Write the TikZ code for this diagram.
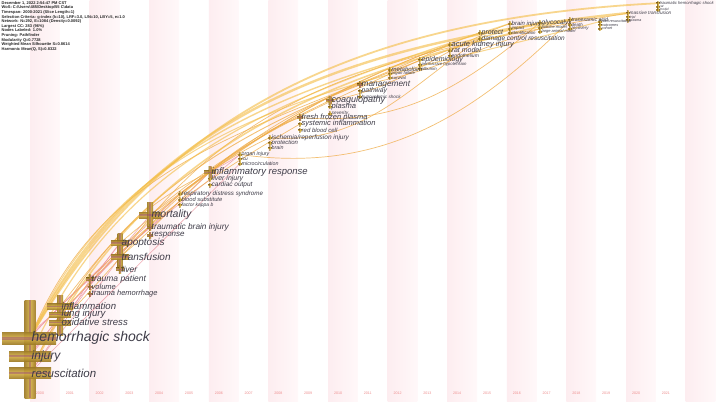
\documentclass[tikz,border=0pt]{standalone}
\usepackage{fontspec}
\setmainfont{Liberation Sans}
\definecolor{stripec}{RGB}{253,237,240}
\definecolor{stripel}{RGB}{255,248,249}
\definecolor{labelc}{RGB}{62,60,72}
\definecolor{goldd}{RGB}{160,125,40}
\definecolor{goldl}{RGB}{214,178,70}
\definecolor{midc}{RGB}{150,70,120}
\definecolor{pinkE}{RGB}{238,150,160}
\definecolor{oranE}{RGB}{240,172,70}
\definecolor{yelE}{RGB}{244,190,72}
\definecolor{yearc}{RGB}{238,140,140}
\newcommand\kwx[5]{%
  \shade[hbar] ({#1-(#3)/2},{#2-(#5)/2}) rectangle ({#1+(#3)/2},{#2+(#5)/2});
  \shade[vbar] ({#1-(#5)/2},{#2-(#4)/2}) rectangle ({#1+(#5)/2},{#2+(#4)/2});
  \fill[core] ({#1-(#3)/2},{#2-(#5)/8}) rectangle ({#1+(#3)/2},{#2+(#5)/8});
  \fill[core] ({#1-(#5)/8},{#2-(#4)/2}) rectangle ({#1+(#5)/8},{#2+(#4)/2});}
\newcommand\kwl[3]{\node[kw,font=\fontsize{#2}{#2}\selectfont\itshape] (#1-l) at (#1) {#3};}
\begin{document}
\begin{tikzpicture}[x=1pt,y=-1pt,
  kw/.style={anchor=west,inner sep=0pt,xshift=1.5pt,text=labelc},
  hbar/.style={top color=goldd,bottom color=goldd,middle color=goldl,opacity=0.92},
  vbar/.style={left color=goldd,right color=goldd,middle color=goldl,opacity=0.92},
  core/.style={fill=midc,opacity=0.45},
  ep/.style={draw=pinkE,line width=0.6pt,opacity=0.8},
  eo/.style={draw=oranE,line width=0.7pt,opacity=0.75},
  ey/.style={draw=yelE,opacity=0.62},
  yr/.style={font=\fontsize{3.6}{3.6}\selectfont,text=yearc,inner sep=0pt},
  hdr/.style={anchor=north west,inner sep=0pt,align=left,font=\fontsize{4}{4.65}\selectfont\bfseries,text=black!85}]
\useasboundingbox (0,0) rectangle (719,401);
\fill[white] (0,0) rectangle (719,401);
% stripes
\foreach \k in {0,...,11}
  \shade[left color=stripec,right color=stripel] ({30+59.6*\k},0) rectangle ({59.8+59.6*\k},401);
% node centres
\coordinate (hs) at (30,338); \coordinate (inj) at (30,356); \coordinate (res) at (30,373);
\coordinate (infl) at (60,306.5); \coordinate (lung) at (60,314.5); \coordinate (ox) at (60,322.5);
\coordinate (tp) at (90,279); \coordinate (vol) at (90,287); \coordinate (th) at (90,294);
\coordinate (apo) at (120,243); \coordinate (trans) at (120,257); \coordinate (liver) at (120,269);
\coordinate (mort) at (150,215); \coordinate (tbi) at (150,227); \coordinate (resp) at (150,235);
\coordinate (ards) at (180,193.5); \coordinate (bs) at (180,199.5); \coordinate (fkb) at (180,205);
\coordinate (ir) at (210,172); \coordinate (li) at (210,179); \coordinate (co) at (210,185);
\coordinate (oi) at (240,154.5); \coordinate (icu) at (240,159); \coordinate (mc) at (240,163.5);
\coordinate (irj) at (270,137.5); \coordinate (prot) at (270,143); \coordinate (brain) at (270,148);
\coordinate (ffp) at (300,117.5); \coordinate (si) at (300,124); \coordinate (rbc) at (300,130);
\coordinate (coag) at (330,100.5); \coordinate (plasma) at (330,107); \coordinate (sev) at (330,113.5);
\coordinate (mgmt) at (360,85); \coordinate (path) at (360,91.2); \coordinate (hyp) at (360,97);
\coordinate (metab) at (390,69.5); \coordinate (of) at (390,73.8); \coordinate (surv) at (390,77.6);
\coordinate (epi) at (420,60); \coordinate (ph) at (420,64.8); \coordinate (alb) at (420,68.8);
\coordinate (aki) at (450,44.5); \coordinate (rat) at (450,50.5); \coordinate (endo) at (450,56);
\coordinate (protect) at (480,32.5); \coordinate (dcr) at (480,38.5);
\coordinate (bi) at (510,23.5); \coordinate (imp) at (510,28.5); \coordinate (ident) at (510,32.5);
\coordinate (glyc) at (540,22.5); \coordinate (pm) at (540,27.5); \coordinate (lam) at (540,31.5);
\coordinate (txa) at (570,20); \coordinate (death) at (570,24.5); \coordinate (rec) at (570,28.5);
\coordinate (fr) at (600,21.5); \coordinate (outc) at (600,25); \coordinate (coh) at (600,28.6);
\coordinate (mt) at (628,13); \coordinate (trial) at (628,16.8); \coordinate (plas2) at (628,20.2);
\coordinate (ths) at (658,3.2); \coordinate (rat2) at (658,6.6); \coordinate (model2) at (658,9.6);
% connectors
\begin{scope}[line cap=round]
\draw[ep] (hs) to[out=50,in=235] (apo);
\draw[ep] (inj) to[out=50,in=230] (mort);
\draw[ep] (res) to[out=55,in=235] (trans);
\draw[ep] (res) to[out=55,in=240] (tp);
\draw[ep] (hs) to[out=60,in=230] (infl);
\draw[ep] (inj) to[out=60,in=240] (lung);
\draw[ep] (infl) to[out=45,in=225] (ards);
\draw[ep] (lung) to[out=45,in=220] (tbi);
\draw[ep] (hs) to[out=48,in=225] (ir);
\draw[ep] (ox) to[out=45,in=230] (apo);
\draw[ep] (res) to[out=45,in=225] (mc);
\draw[ep] (inj) to[out=55,in=220] (oi);
\draw[ep] (ir) to[out=30,in=215] (oi);
\draw[ep] (ards) to[out=40,in=220] (ir);
\draw[eo] (infl) to[out=52,in=205] (ir);
\draw[eo] (ox) to[out=45,in=205] (irj);
\draw[eo] (lung) to[out=48,in=210] (si);
\draw[eo] (tp) to[out=45,in=205] (coag);
\draw[eo] (trans) to[out=40,in=200] (ffp);
\draw[eo] (mort) to[out=35,in=200] (mgmt);
\draw[eo] (mort) to[out=40,in=205] (epi);
\draw[eo] (apo) to[out=40,in=200] (protect);
\draw[eo] (ir) to[out=35,in=200] (aki);
\draw[eo] (trans) to[out=55,in=190] (mt);
\draw[eo] (irj) to[out=-5,in=215] (dcr);
\draw[eo] (oi) to[out=-8,in=225] (txa);
\draw[eo] (ffp) to[out=-5,in=220] (glyc);
\draw[eo] (coag) to[out=10,in=200] (bi);
\draw[eo] (mgmt) to[out=10,in=195] (txa);
\draw[eo] (hs) to[out=68,in=205] (aki);
\draw[eo,line width=0.9pt] (res) to[out=66,in=200] (dcr);
\draw[ey,line width=2.4pt] (hs) to[out=62,in=186] (mt);
\draw[ey,line width=1.8pt] (hs) to[out=60,in=183] (ths);
\draw[ey,line width=1.6pt] (res) to[out=64,in=192] (txa);
\draw[ey,line width=1.4pt] (hs) to[out=64,in=194] (glyc);
\draw[ey,line width=1.2pt] (inj) to[out=66,in=198] (bi);
\draw[ey,line width=1.0pt] (hs) to[out=66,in=195] (fr);
\end{scope}
% crosses
\kwx{30}{349}{0}{98}{11}
\kwx{29}{338}{54}{0}{12}
\kwx{30}{356}{42}{0}{10}
\kwx{30}{373}{42}{0}{11}
\kwx{60}{315}{0}{40}{6}
\kwx{60}{306.5}{26}{0}{6}
\kwx{60}{314.5}{22}{0}{5}
\kwx{60}{322.5}{22}{0}{5}
\kwx{90}{279}{8}{9}{2.2}
\kwx{90}{287}{5}{5}{1.6}
\kwx{90}{294}{5}{5}{1.6}
\kwx{120}{250}{0}{34}{5}
\kwx{120}{243}{18}{0}{5}
\kwx{120}{257}{18}{0}{5}
\kwx{120}{269}{8}{8}{2.2}
\kwx{150}{215}{22}{26}{6}
\kwx{150}{227}{6}{6}{2}
\kwx{150}{235}{6}{6}{2}
\foreach \c in {ards,bs,fkb,li,co,oi,icu,mc,irj,prot,brain,si,rbc,plasma,sev,path,hyp,
  metab,of,surv,epi,ph,alb,aki,rat,endo,protect,dcr,bi,imp,ident,glyc,pm,lam,txa,death,rec,
  fr,outc,coh,mt,trial,plas2,ths,rat2,model2}
  {\shade[hbar] ([shift={(-2,-0.65)}]\c) rectangle ([shift={(2,0.65)}]\c);
   \shade[vbar] ([shift={(-0.65,-2)}]\c) rectangle ([shift={(0.65,2)}]\c);}
\kwx{210}{172}{12}{12}{3}
\kwx{300}{117.5}{6}{6}{2}
\kwx{330}{100.5}{8}{8}{2.6}
\kwx{360}{85}{6}{6}{2}
% labels
\kwl{hs}{14}{hemorrhagic shock}
\kwl{inj}{12}{injury}
\kwl{res}{11.5}{resuscitation}
\kwl{infl}{9.6}{inflammation}
\kwl{lung}{9.6}{lung injury}
\kwl{ox}{9.6}{oxidative stress}
\kwl{tp}{8.5}{trauma patient}
\kwl{vol}{7.5}{volume}
\kwl{th}{7.5}{trauma hemorrhage}
\kwl{apo}{10}{apoptosis}
\kwl{trans}{10}{transfusion}
\kwl{liver}{8.5}{liver}
\kwl{mort}{10.5}{mortality}
\kwl{tbi}{8.3}{traumatic brain injury}
\kwl{resp}{8}{response}
\kwl{ards}{6.2}{respiratory distress syndrome}
\kwl{bs}{5.8}{blood substitute}
\kwl{fkb}{5}{factor kappa b}
\kwl{ir}{9.5}{inflammatory response}
\kwl{li}{7}{liver injury}
\kwl{co}{6.5}{cardiac output}
\kwl{oi}{5.3}{organ injury}
\kwl{icu}{4.8}{icu}
\kwl{mc}{5.3}{microcirculation}
\kwl{irj}{6.5}{ischemia/reperfusion injury}
\kwl{prot}{6}{protection}
\kwl{brain}{5.3}{brain}
\kwl{ffp}{7.5}{fresh frozen plasma}
\kwl{si}{7.5}{systemic inflammation}
\kwl{rbc}{6}{red blood cell}
\kwl{coag}{9}{coagulopathy}
\kwl{plasma}{7.6}{plasma}
\kwl{sev}{4.8}{severity}
\kwl{mgmt}{8.3}{management}
\kwl{path}{6.8}{pathway}
\kwl{hyp}{4.6}{hypovolemic shock}
\kwl{metab}{6}{metabolism}
\kwl{of}{4.2}{organ failure}
\kwl{surv}{4.2}{survival}
\kwl{epi}{7}{epidemiology}
\kwl{ph}{4.3}{permissive hypotension}
\kwl{alb}{4.3}{albumin}
\kwl{aki}{7.5}{acute kidney injury}
\kwl{rat}{7}{rat model}
\kwl{endo}{5}{endothelium}
\kwl{protect}{7}{protect}
\kwl{dcr}{6.5}{damage control resuscitation}
\kwl{bi}{6}{brain injury}
\kwl{imp}{4.3}{impact}
\kwl{ident}{4.3}{identification}
\kwl{glyc}{6.5}{glycocalyx}
\kwl{pm}{4}{porcine model}
\kwl{lam}{4}{large animal model}
\kwl{txa}{5.2}{tranexamic acid}
\kwl{death}{4.4}{death}
\kwl{rec}{4.4}{recovery}
\kwl{fr}{3.8}{fluid resuscitation}
\kwl{outc}{3.8}{outcomes}
\kwl{coh}{3.8}{cohort}
\kwl{mt}{4.7}{massive transfusion}
\kwl{trial}{3.6}{trial}
\kwl{plas2}{3.6}{plasma}
\kwl{ths}{4.2}{traumatic hemorrhagic shock}
\kwl{rat2}{3.3}{rat}
\kwl{model2}{3.3}{model}
% header
\node[hdr] (hdr) at (1.5,1) {December 1, 2022 2:54:47 PM CST\\
WoS: C:\textbackslash Users\textbackslash 485\textbackslash Desktop\textbackslash 55 C\textbackslash data\\
Timespan: 2000-2021 (Slice Length=1)\\
Selection Criteria: g-index (k=10), LRF=3.0, L/N=10, LBY=5, e=1.0\\
Network: N=292, E=1084 (Density=0.0092)\\
Largest CC: 283 (96\%)\\
Nodes Labeled: 1.0\%\\
Pruning: Pathfinder\\
Modularity Q=0.7728\\
Weighted Mean Silhouette S=0.8614\\
Harmonic Mean(Q, S)=0.8322};
% years
\foreach \k in {0,...,21}{
  \pgfmathtruncatemacro\yy{2000+\k}
  \node[yr] (y\yy) at ({40+29.8*\k},393) {\yy};}
\end{tikzpicture}
\end{document}
